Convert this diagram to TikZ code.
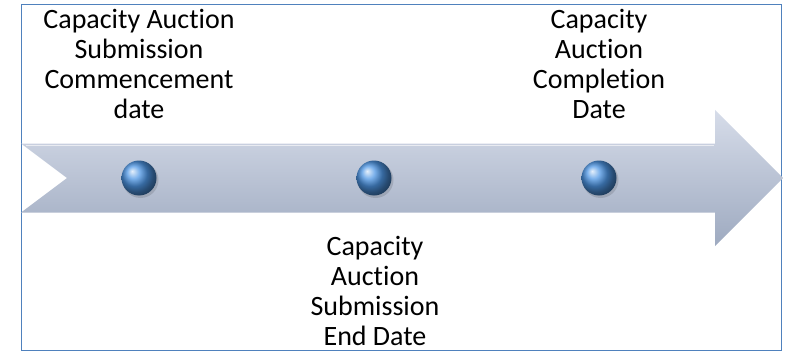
\documentclass[tikz,border=0pt]{standalone}
\usepackage{fontspec}
\setmainfont{Carlito}[Ligatures=NoCommon]
\usepackage{tikz}
\definecolor{frameblue}{RGB}{79,129,189}
\definecolor{arrowtop}{RGB}{214,220,233}
\definecolor{arrowbot}{RGB}{158,170,192}
\definecolor{dotblue}{RGB}{78,150,228}

\begin{document}
\begin{tikzpicture}[x=1pt,y=1pt,
	dot/.style={circle,minimum size=35pt,inner sep=0pt,ball color=dotblue},
	lbl/.style={align=center,inner sep=0pt,font=\fontsize{28}{30}\selectfont}]
	\useasboundingbox (0,0) rectangle (786,354);
	%frame
	\draw[frameblue,line width=1pt] (21,3.5) rectangle (781,349);
	
	%arrow
	\shade[top color=arrowtop,bottom color=arrowbot]
	(21,210.5)--(715,210.5)--(715,244)--(783,176)--(715,108)--(715,141.5)--(21,141.5)--(67,176)--cycle;
	\draw[white,opacity=0.6,line width=1.2pt] (26,208.5)--(714,208.5);
	
	%dots
	\foreach \x/\n in {139/1,374/2,599/3}{
	\fill[black,opacity=0.12] (\x+1.5,174) circle (18);
	\node[dot] (d\n) at (\x,176) {};}
	
	%labels
	\node[lbl,anchor=south,text depth=0pt] (t1) at (139,235) {Capacity Auction\\Submission\\Commencement\\date};
	\node[lbl,anchor=south,text depth=0pt] (t3) at (599,235) {Capacity\\Auction\\Completion\\Date};
	\node[lbl,anchor=north] (t2) at (375,118) {Capacity\\Auction\\Submission\\End Date};
\end{tikzpicture}
\end{document}
